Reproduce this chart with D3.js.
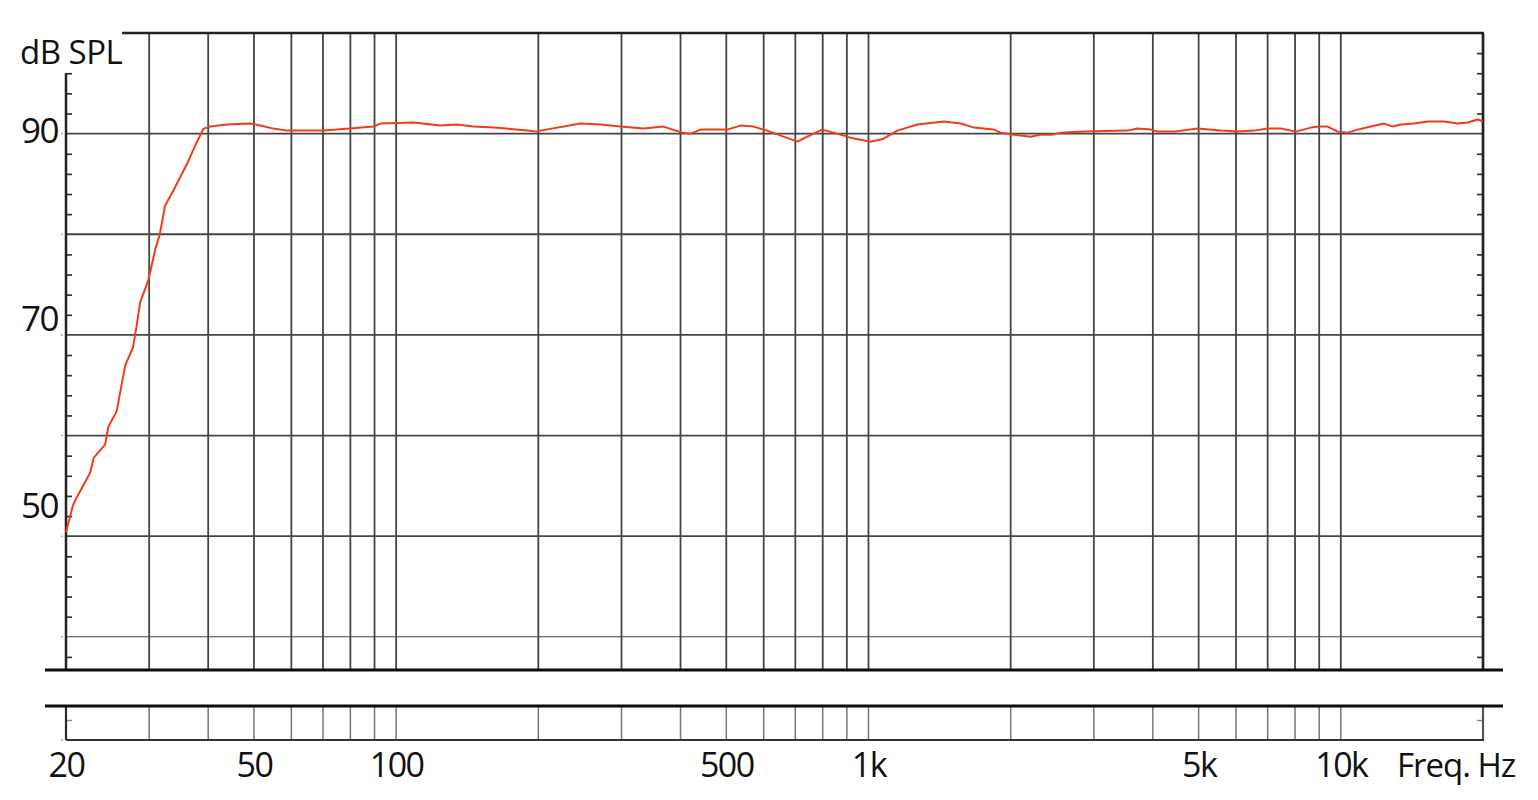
<!DOCTYPE html>
<html>
<head>
<meta charset="utf-8">
<script src="https://cdn.jsdelivr.net/npm/d3@7"></script>
<style>
  html, body { margin: 0; padding: 0; background: #fff; }
  svg { display: block; }
  text { font-family: "Open Sans", "Noto Sans", sans-serif; fill: #111; }
</style>
</head>
<body>
<svg id="chart" width="1538" height="800"></svg>
<script>
// ---- data ----
const freqHz = [20, 20.7, 21.1, 22.5, 22.9, 24.2, 24.6, 25.6, 26.7, 27.7, 28.2, 28.7, 29.9, 30.9, 31.6, 32.4, 33.8, 36.0, 37.8, 39.1, 40.4, 43.8, 49.1, 51.5, 55.0, 58.7, 70.2, 79.9, 89.6, 92.5, 108.9, 124, 134.5, 145.9, 160.8, 171.6, 189.3, 198.7, 202, 245.5, 270.6, 298.5, 334, 368, 403, 420, 441, 502, 536, 571, 610, 661, 707, 742, 798, 843, 916, 1010, 1076, 1151, 1269, 1445, 1568, 1672, 1843, 1905, 2032, 2206, 2316, 2450, 2552, 2860, 3534, 3710, 3960, 4092, 4436, 4972, 5572, 6042, 6556, 6998, 7466, 8034, 8644, 9002, 9376, 9846, 10338, 10854, 11580, 12358, 12876, 13410, 14304, 15270, 16560, 17680, 18566, 19492, 20000];
const splDb = [50.4, 53.1, 53.9, 56.3, 57.8, 59.1, 60.9, 62.4, 67.0, 68.7, 70.8, 73.2, 75.5, 78.5, 80.0, 82.8, 84.4, 86.9, 89.1, 90.5, 90.7, 90.9, 91.0, 90.8, 90.5, 90.3, 90.3, 90.5, 90.7, 91.0, 91.1, 90.8, 90.9, 90.7, 90.6, 90.5, 90.3, 90.2, 90.3, 91.0, 90.9, 90.7, 90.5, 90.7, 90.1, 90.0, 90.4, 90.4, 90.8, 90.7, 90.3, 89.7, 89.2, 89.7, 90.4, 90.1, 89.6, 89.2, 89.5, 90.3, 90.9, 91.2, 91.0, 90.6, 90.4, 90.1, 89.9, 89.7, 89.9, 89.9, 90.1, 90.2, 90.3, 90.5, 90.4, 90.2, 90.2, 90.5, 90.3, 90.2, 90.3, 90.5, 90.5, 90.2, 90.6, 90.7, 90.7, 90.2, 90.1, 90.4, 90.7, 91.0, 90.7, 90.9, 91.0, 91.2, 91.2, 91.0, 91.1, 91.4, 91.2];

const freqGrid = [30, 40, 50, 60, 70, 80, 90, 100, 200, 300, 400, 500, 600, 700, 800, 900, 1000, 2000, 3000, 4000, 5000, 6000, 7000, 8000, 9000, 10000];
const freqTickValues = [20, 50, 100, 500, 1000, 5000, 10000];
const freqTickLabels = ["20", "50", "100", "500", "1k", "5k", "10k"];
const dbGrid = [90, 80, 70, 60, 50, 40];
const dbLabelValues = [90, 70, 50];
const dbLabels = ["90", "70", "50"];
const leftMinorTicks = d3.range(38, 97, 2);
const rightMinorTicks = d3.range(38, 99, 2);
const stripTicks = [2];
const yTitle = "dB SPL";
const xTitle = "Freq. Hz";

// ---- layout ----
const X0 = 66, X1 = 1483;
const TOP = 33, BOT = 668;
const STRIP_TOP = 706, STRIP_BOT = 740;
const BREAK1 = 670, BREAK2 = 706;

const svg = d3.select("#chart");
const x = d3.scaleLog().domain([20, 20000]).range([X0, X1]);
const y = d3.scaleLinear().domain([36.9, 100]).range([BOT, TOP]);
const yStrip = d3.scaleLinear().domain([0, 3.4]).range([STRIP_BOT, STRIP_TOP]);
const yLab = d3.scaleLinear().domain([50, 90]).range([y(50) - 18, y(90) + 9.5]);

const gridColor = "#454545";

// vertical grid lines (upper plot and lower strip)
const g = svg.append("g");
g.selectAll("line.vg").data(freqGrid).join("line")
  .attr("x1", d => x(d)).attr("x2", d => x(d))
  .attr("y1", TOP).attr("y2", BREAK1)
  .attr("stroke", gridColor).attr("stroke-width", 1.8);
g.selectAll("line.vs").data(freqGrid).join("line")
  .attr("x1", d => x(d)).attr("x2", d => x(d))
  .attr("y1", STRIP_TOP).attr("y2", STRIP_BOT)
  .attr("stroke", "#777").attr("stroke-width", 1.5);

// horizontal grid lines
g.selectAll("line.hg").data(dbGrid).join("line")
  .attr("x1", X0).attr("x2", X1)
  .attr("y1", d => y(d)).attr("y2", d => y(d))
  .attr("stroke", gridColor).attr("stroke-width", d => d === 40 ? 1.1 : 1.8);

// left/right minor ticks via d3 axes
svg.append("g").attr("transform", `translate(${X0},0)`)
  .call(d3.axisRight(y).tickValues(leftMinorTicks.filter(v => v % 10 !== 0)).tickSize(6).tickFormat(""))
  .call(a => a.select(".domain").remove())
  .call(a => a.selectAll("line").attr("stroke", "#333").attr("stroke-width", 1.7));
svg.append("g").attr("transform", `translate(${X1},0)`)
  .call(d3.axisLeft(y).tickValues(rightMinorTicks.filter(v => v % 10 !== 0)).tickSize(6).tickFormat(""))
  .call(a => a.select(".domain").remove())
  .call(a => a.selectAll("line").attr("stroke", "#333").attr("stroke-width", 1.7));
svg.append("g").attr("transform", `translate(${X0},0)`)
  .call(d3.axisRight(yStrip).tickValues(stripTicks).tickSize(6).tickFormat(""))
  .call(a => a.select(".domain").remove())
  .call(a => a.selectAll("line").attr("stroke", "#888").attr("stroke-width", 1.4));
svg.append("g").attr("transform", `translate(${X1},0)`)
  .call(d3.axisLeft(yStrip).tickValues(stripTicks).tickSize(6).tickFormat(""))
  .call(a => a.select(".domain").remove())
  .call(a => a.selectAll("line").attr("stroke", "#888").attr("stroke-width", 1.4));

// small blue marks at major levels
svg.selectAll("line.bm").data(dbGrid).join("line")
  .attr("x1", X0 - 5).attr("x2", X0 - 3)
  .attr("y1", d => y(d)).attr("y2", d => y(d))
  .attr("stroke", "#8fb0d8").attr("stroke-width", 1.5);
svg.append("line").attr("x1", X0 - 5).attr("x2", X0 - 3)
  .attr("y1", yStrip(0)).attr("y2", yStrip(0))
  .attr("stroke", "#8fb0d8").attr("stroke-width", 1.5);

// axis frame lines
svg.append("line").attr("x1", X0).attr("x2", X0).attr("y1", y(96)).attr("y2", BREAK1)
  .attr("stroke", "#222").attr("stroke-width", 2.5);
svg.append("line").attr("x1", X1).attr("x2", X1).attr("y1", TOP).attr("y2", BREAK1)
  .attr("stroke", "#222").attr("stroke-width", 2.7);
svg.append("line").attr("x1", 122).attr("x2", X1 + 1).attr("y1", TOP).attr("y2", TOP)
  .attr("stroke", "#222").attr("stroke-width", 2.7);
svg.append("line").attr("x1", X0).attr("x2", X0).attr("y1", STRIP_TOP).attr("y2", STRIP_BOT)
  .attr("stroke", "#2a2a2a").attr("stroke-width", 2.2);
svg.append("line").attr("x1", X1).attr("x2", X1).attr("y1", STRIP_TOP).attr("y2", STRIP_BOT)
  .attr("stroke", "#555").attr("stroke-width", 2.2);
svg.append("line").attr("x1", X0).attr("x2", X1 + 1).attr("y1", STRIP_BOT).attr("y2", STRIP_BOT)
  .attr("stroke", "#333").attr("stroke-width", 2);
// break lines
[BREAK1, BREAK2].forEach(yy => {
  svg.append("line").attr("x1", 45).attr("x2", 1503).attr("y1", yy).attr("y2", yy)
    .attr("stroke", "#0d0d0d").attr("stroke-width", 3);
});

// response curve
const line = d3.line().x(d => x(d[0])).y(d => y(d[1]));
svg.append("path")
  .datum(d3.zip(freqHz, splDb))
  .attr("d", line)
  .attr("fill", "none")
  .attr("stroke", "#f03c1e")
  .attr("stroke-width", 2)
  .attr("stroke-linejoin", "round");

// x tick labels via d3 axis
svg.append("g").attr("transform", `translate(0,${STRIP_BOT})`)
  .call(d3.axisBottom(x).tickValues(freqTickValues).tickSize(0).tickPadding(0)
    .tickFormat((d, i) => freqTickLabels[i]))
  .call(a => a.select(".domain").remove())
  .call(a => a.selectAll("text")
    .attr("dy", null).attr("y", 37)
    .style("font-family", '"Open Sans", sans-serif')
    .style("font-size", "34px").attr("fill", "#111").attr("letter-spacing", "-1.5"));

svg.append("text").attr("x", 1397).attr("y", 777)
  .style("font-size", "33px").attr("letter-spacing", "-1").text(xTitle);

// y labels
svg.selectAll("text.yl").data(dbLabelValues).join("text")
  .attr("x", 58).attr("y", d => yLab(d))
  .attr("text-anchor", "end")
  .style("font-size", "35px").attr("letter-spacing", "-1.5")
  .text((d, i) => dbLabels[i]);

svg.append("text").attr("x", 20).attr("y", 64)
  .style("font-size", "33px").attr("letter-spacing", "-0.5").text(yTitle);
</script>
</body>
</html>
